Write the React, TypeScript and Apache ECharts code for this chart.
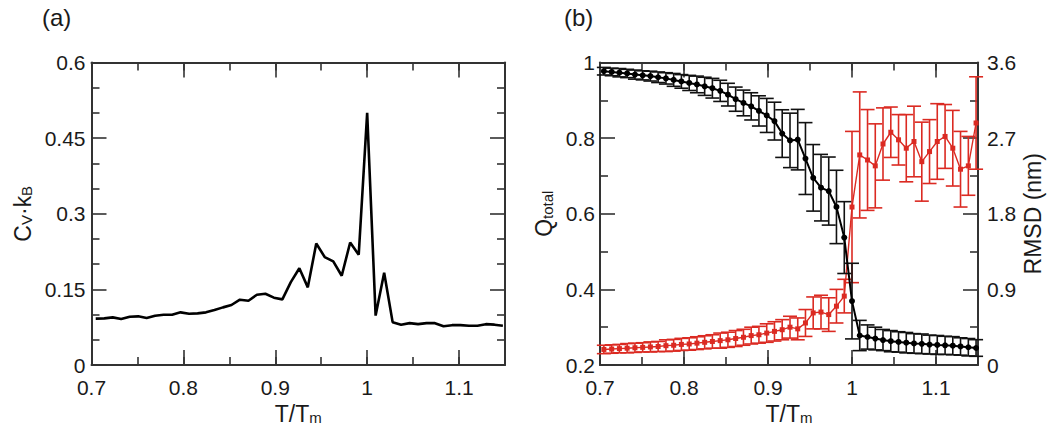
import React, { useEffect, useRef } from "react";
import * as echarts from "echarts";

// Reduced temperature T/Tm (shared by both panels)
const tRed = [
  0.7046, 0.7139, 0.7231, 0.7323, 0.7416, 0.7508, 0.76, 0.7692, 0.7785, 0.7877,
  0.7969, 0.8062, 0.8154, 0.8246, 0.8338, 0.8431, 0.8523, 0.8615, 0.8708, 0.88,
  0.8892, 0.8985, 0.9077, 0.9169, 0.9262, 0.9354, 0.9446, 0.9538, 0.9631, 0.9723,
  0.9815, 0.9908, 1.0, 1.0092, 1.0185, 1.0277, 1.0369, 1.0462, 1.0554, 1.0646,
  1.0738, 1.0831, 1.0923, 1.1015, 1.1108, 1.12, 1.1292, 1.1385, 1.1477,
];

// (a) heat capacity Cv·kB
const cvKb = [
  0.092, 0.0925, 0.0945, 0.0912, 0.0958, 0.0965, 0.0932, 0.0978, 0.0998, 0.0998,
  0.1044, 0.1018, 0.1024, 0.1044, 0.109, 0.1143, 0.119, 0.1295, 0.1275, 0.1394,
  0.1414, 0.1335, 0.1302, 0.1645, 0.192, 0.154, 0.241, 0.2141, 0.2055, 0.177,
  0.243, 0.2187, 0.5, 0.098, 0.183, 0.085, 0.08, 0.083, 0.081, 0.083,
  0.083, 0.077, 0.079, 0.079, 0.078, 0.078, 0.081, 0.08, 0.078,
];

// (b) fraction of native contacts Q_total and its error
const qTotal = [
  0.977, 0.975, 0.973, 0.971, 0.968, 0.966, 0.964, 0.961, 0.958, 0.954,
  0.95, 0.946, 0.942, 0.937, 0.932, 0.925, 0.915, 0.903, 0.893, 0.884,
  0.872, 0.86, 0.845, 0.812, 0.794, 0.796, 0.746, 0.695, 0.669, 0.66,
  0.618, 0.537, 0.369, 0.278, 0.274, 0.27, 0.266, 0.263, 0.261, 0.259,
  0.257, 0.256, 0.254, 0.253, 0.252, 0.251, 0.249, 0.247, 0.245,
];
const qErr = [
  0.01, 0.01, 0.011, 0.011, 0.012, 0.012, 0.013, 0.014, 0.015, 0.017,
  0.018, 0.02, 0.022, 0.024, 0.026, 0.028, 0.03, 0.032, 0.034, 0.036,
  0.04, 0.045, 0.05, 0.063, 0.072, 0.08, 0.095, 0.088, 0.088, 0.09,
  0.097, 0.095, 0.1, 0.04, 0.032, 0.03, 0.028, 0.028, 0.027, 0.027,
  0.026, 0.026, 0.025, 0.025, 0.024, 0.024, 0.023, 0.023, 0.022,
];

// (b) RMSD (nm) and its error
const rmsdNm = [
  0.185, 0.19, 0.195, 0.2, 0.205, 0.21, 0.215, 0.22, 0.23, 0.235,
  0.245, 0.25, 0.26, 0.27, 0.28, 0.29, 0.3, 0.315, 0.33, 0.35,
  0.36, 0.38, 0.4, 0.42, 0.45, 0.43, 0.5, 0.62, 0.63, 0.6,
  0.7, 0.82, 1.88, 2.5, 2.44, 2.37, 2.63, 2.77, 2.68, 2.58,
  2.66, 2.42, 2.54, 2.66, 2.72, 2.58, 2.33, 2.37, 2.88,
];
const rmsdErr = [
  0.05, 0.05, 0.05, 0.055, 0.055, 0.055, 0.06, 0.06, 0.07, 0.07,
  0.072, 0.074, 0.076, 0.078, 0.08, 0.09, 0.09, 0.095, 0.095, 0.1,
  0.1, 0.11, 0.115, 0.12, 0.13, 0.13, 0.16, 0.19, 0.2, 0.2,
  0.2, 0.2, 0.9, 0.75, 0.6, 0.5, 0.43, 0.3, 0.3, 0.4,
  0.42, 0.47, 0.38, 0.45, 0.38, 0.45, 0.45, 0.35, 0.55,
];

const FONT = "'Liberation Sans', Arial, Helvetica, sans-serif";
const AXC = "#333";
const TXT = "#1a1a1a";
const RED = "#db2a22";
const TICK_FS = 21;

const tickLine = { color: AXC, width: 1.6 };

const subRich = {
  n: { fontSize: 23, fontFamily: FONT, color: TXT, lineHeight: 23, verticalAlign: "top" },
  s: { fontSize: 15, fontFamily: FONT, color: TXT, lineHeight: 23, padding: [7, 0, 0, 0] },
};

function xAxes(grid: number) {
  const base = { type: "value", gridIndex: grid, min: 0.7, max: 1.15, splitLine: { show: false } };
  return [
    {
      ...base,
      position: "bottom",
      interval: 0.1,
      axisLine: { show: true, onZero: false, lineStyle: { color: AXC, width: 2 } },
      axisTick: { inside: true, length: 15, lineStyle: tickLine },
      axisLabel: { margin: 12, fontSize: TICK_FS, color: TXT, fontFamily: FONT, showMaxLabel: false },
      name: "{n|T/T}{s|m}",
      nameLocation: "middle",
      nameGap: 30,
      nameTextStyle: { rich: subRich },
    },
    {
      ...base,
      position: "bottom",
      interval: 0.05,
      axisLine: { show: false, onZero: false },
      axisTick: { inside: true, length: 8, lineStyle: tickLine },
      axisLabel: { show: false },
    },
    {
      ...base,
      position: "top",
      interval: 0.1,
      axisLine: { show: true, onZero: false, lineStyle: { color: AXC, width: 2 } },
      axisTick: { inside: true, length: 15, lineStyle: tickLine },
      axisLabel: { show: false },
    },
    {
      ...base,
      position: "top",
      interval: 0.05,
      axisLine: { show: false, onZero: false },
      axisTick: { inside: true, length: 8, lineStyle: tickLine },
      axisLabel: { show: false },
    },
  ];
}

function yAxis(
  grid: number,
  position: string,
  min: number,
  max: number,
  interval: number,
  minorSplit: number,
  labels: boolean,
  margin: number,
  name?: string,
  nameGap?: number,
  rich?: any
) {
  return {
    type: "value",
    gridIndex: grid,
    position,
    min,
    max,
    interval,
    splitLine: { show: false },
    axisLine: { show: true, onZero: false, lineStyle: { color: AXC, width: 2 } },
    axisTick: { inside: true, length: 15, lineStyle: tickLine },
    minorTick: { show: true, splitNumber: minorSplit, length: 8, lineStyle: tickLine },
    axisLabel: labels
      ? { margin, fontSize: TICK_FS, color: TXT, fontFamily: FONT }
      : { show: false },
    name,
    nameLocation: "middle",
    nameRotate: 90,
    nameGap,
    nameTextStyle: { fontSize: 23, fontFamily: FONT, color: TXT, rich },
  };
}

function errorBars(xIdx: number, yIdx: number, vals: number[], errs: number[], color: string, z: number) {
  return {
    type: "custom",
    xAxisIndex: xIdx,
    yAxisIndex: yIdx,
    z,
    silent: true,
    encode: { x: 0, y: [1, 2] },
    data: tRed.map((t, i) => [t, vals[i] - errs[i], vals[i] + errs[i]]),
    renderItem: (_params: any, api: any) => {
      const x = api.value(0);
      const lo = api.coord([x, api.value(1)]);
      const hi = api.coord([x, api.value(2)]);
      const w = 7;
      const style = { stroke: color, lineWidth: 1.6, fill: "none" };
      return {
        type: "group",
        children: [
          { type: "line", shape: { x1: lo[0], y1: lo[1], x2: hi[0], y2: hi[1] }, style },
          { type: "line", shape: { x1: lo[0] - w, y1: lo[1], x2: lo[0] + w, y2: lo[1] }, style },
          { type: "line", shape: { x1: hi[0] - w, y1: hi[1], x2: hi[0] + w, y2: hi[1] }, style },
        ],
      };
    },
  };
}

export default function App() {
  const ref = useRef<HTMLDivElement>(null);
  useEffect(() => {
    if (!ref.current) return;
    const chart = echarts.init(ref.current, undefined, { renderer: "svg" });
    chart.setOption({
      animation: false,
      backgroundColor: "#fff",
      grid: [
        { left: 91.5, right: 545, top: 62.5, bottom: 75 },
        { left: 600, right: 72, top: 62.5, bottom: 75 },
      ],
      xAxis: [...xAxes(0), ...xAxes(1)],
      yAxis: [
        yAxis(0, "left", 0, 0.6, 0.15, 3, true, 6, "{n|C}{s|V}{n|·k}{s|B}", 57, subRich),
        yAxis(0, "right", 0, 0.6, 0.15, 3, false, 0),
        yAxis(1, "left", 0.2, 1, 0.2, 2, true, 5, "{n|Q}{s|total}", 45, subRich),
        yAxis(1, "right", 0, 3.6, 0.9, 2, true, 9, "RMSD (nm)", 43),
      ],
      graphic: [
        { type: "text", left: 42, top: 5, style: { text: "(a)", fontSize: 24, fontFamily: FONT, fill: TXT } },
        { type: "text", left: 564, top: 5, style: { text: "(b)", fontSize: 24, fontFamily: FONT, fill: TXT } },
      ],
      series: [
        {
          type: "line",
          xAxisIndex: 0,
          yAxisIndex: 0,
          data: tRed.map((t, i) => [t, cvKb[i]]),
          symbol: "none",
          lineStyle: { color: "#000", width: 2.6 },
          z: 5,
        },
        errorBars(4, 3, rmsdNm, rmsdErr, RED, 3),
        {
          type: "line",
          xAxisIndex: 4,
          yAxisIndex: 3,
          data: tRed.map((t, i) => [t, rmsdNm[i]]),
          symbol: "rect",
          symbolSize: 5,
          itemStyle: { color: RED },
          lineStyle: { color: RED, width: 1.4 },
          z: 4,
        },
        errorBars(4, 2, qTotal, qErr, "#111", 5),
        {
          type: "line",
          xAxisIndex: 4,
          yAxisIndex: 2,
          data: tRed.map((t, i) => [t, qTotal[i]]),
          symbol: "circle",
          symbolSize: 6,
          itemStyle: { color: "#000" },
          lineStyle: { color: "#000", width: 2 },
          z: 6,
        },
      ],
    });
    return () => chart.dispose();
  }, []);
  return (
    <div
      ref={ref}
      style={{ position: "fixed", left: 0, top: 0, width: 1050, height: 440, background: "#fff" }}
    />
  );
}
